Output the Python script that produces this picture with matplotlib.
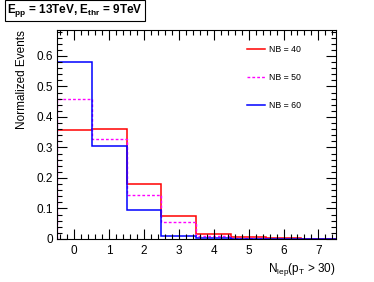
import numpy as np
import matplotlib.pyplot as plt
from matplotlib.ticker import MultipleLocator, FormatStrFormatter

plt.rcParams['font.family'] = 'Liberation Sans'
plt.rcParams['mathtext.fontset'] = 'custom'
plt.rcParams['mathtext.rm'] = 'Liberation Sans'
plt.rcParams['mathtext.it'] = 'Liberation Sans'
plt.rcParams['mathtext.bf'] = 'Liberation Sans:bold'

# data: normalized N_lep distribution per NB setting
n_lep = [0, 1, 2, 3, 4, 5, 6, 7]
nb40 = [0.357, 0.360, 0.181, 0.077, 0.016, 0.005, 0.002, 0.0005]
nb50 = [0.458, 0.327, 0.145, 0.057, 0.010, 0.002, 0.001, 0.0]
nb60 = [0.580, 0.305, 0.094, 0.010, 0.003, 0.001, 0.0, 0.0]
labels = ["NB = 40", "NB = 50", "NB = 60"]

edges = np.append(np.array(n_lep) - 0.5, n_lep[-1] + 0.5)

fig = plt.figure(figsize=(3.74, 2.82), dpi=100)
ax = fig.add_axes([0.152, 0.1525, 0.746, 0.742])

ax.stairs(nb40, edges, color='#ff0000', lw=1.1, label=labels[0])
ax.stairs(nb50, edges, color='#ff00ff', lw=1.0, ls=(0, (2, 1.5)), label=labels[1])
ax.stairs(nb60, edges, color='#0000ff', lw=1.1, label=labels[2])

ax.set_xlim(-0.5, 7.5)
ax.set_ylim(0, 0.686)
ax.xaxis.set_major_locator(MultipleLocator(1))
ax.xaxis.set_minor_locator(MultipleLocator(0.2))
ax.yaxis.set_major_locator(MultipleLocator(0.1))
ax.yaxis.set_minor_locator(MultipleLocator(0.02))
ax.yaxis.set_major_formatter(FormatStrFormatter('%g'))
ax.tick_params(which='both', direction='in', top=True, right=True,
               labelsize=8.5, width=0.8)
ax.tick_params(which='major', length=7)
ax.tick_params(which='minor', length=3.5)
ax.tick_params(axis='x', pad=4)
ax.tick_params(axis='y', pad=3)
for s in ax.spines.values():
    s.set_linewidth(0.8)

ax.set_ylabel("Normalized Events", fontsize=8.5, loc='top', labelpad=6)
ax.set_xlabel(r"N$_{\mathrm{lep}}$(p$_{\mathrm{T}}$ > 30)", fontsize=8.5,
              loc='right', labelpad=3)

ax.legend(frameon=False, fontsize=6.3, loc='upper left',
          bbox_to_anchor=(0.655, 0.965), handlelength=2.0, labelspacing=2.15,
          handletextpad=0.5)

fig.text(0.02, 0.963, r"$\mathbf{E_{pp}}$ = 13TeV, $\mathbf{E_{thr}}$ = 9TeV",
         fontsize=8.5, fontweight='bold', va='center', ha='left',
         bbox=dict(boxstyle='square,pad=0.2', fc='white', ec='black', lw=0.8))

fig.savefig("out.png", dpi=100)
